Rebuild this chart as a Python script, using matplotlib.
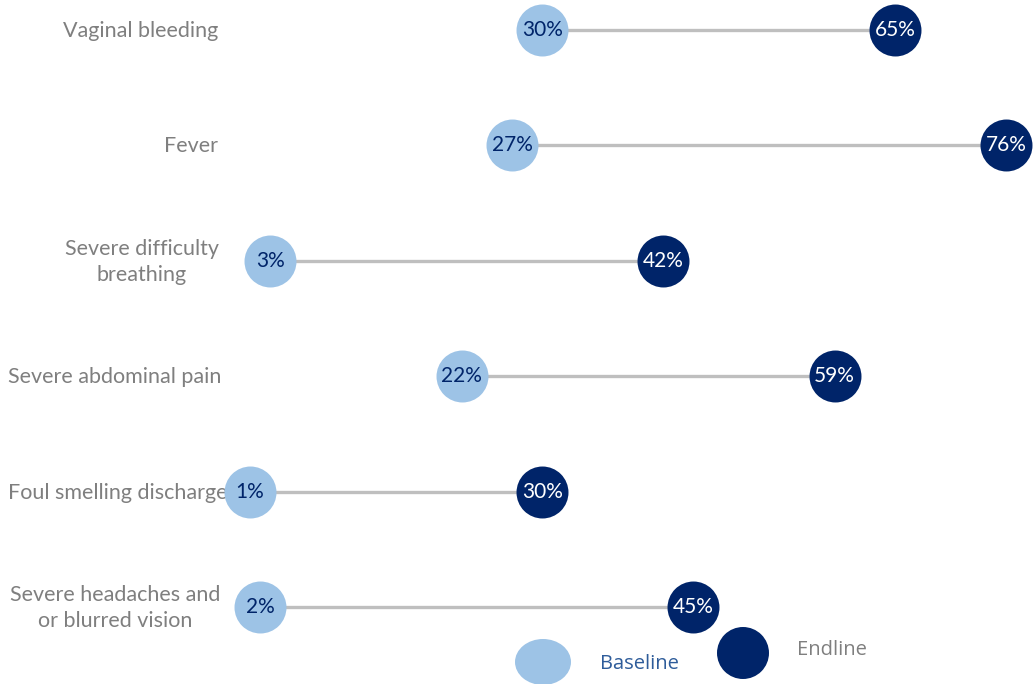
import matplotlib
matplotlib.use('Agg')
import matplotlib.pyplot as plt
from matplotlib.patches import Ellipse

# data
labels = ["Vaginal bleeding", "Fever", "Severe difficulty\nbreathing",
          "Severe abdominal pain", "Foul smelling discharge",
          "Severe headaches and\nor blurred vision"]
baseline = [30, 27, 3, 22, 1, 2]
endline = [65, 76, 42, 59, 30, 45]

light = '#9DC3E6'
dark = '#002469'
grey_txt = '#7F7F7F'

plt.rcParams['font.family'] = ['Lato', 'DejaVu Sans']

fig = plt.figure(figsize=(10.35, 6.84), dpi=100)
ax = fig.add_axes([0, 0, 1, 1])
ax.set_xlim(-23.82, 78.89)
ax.set_ylim(5.667, -0.26)
ax.axis('off')

rows = list(range(len(labels)))

for i in rows:
    ax.plot([baseline[i], endline[i]], [i, i], color='#BFBFBF', lw=2.4, zorder=1)

ax.scatter(baseline, rows, s=1400, color=light, zorder=2, linewidths=0)
ax.scatter(endline, rows, s=1400, color=dark, zorder=2, linewidths=0)

for i in rows:
    ax.text(baseline[i], i, f"{baseline[i]}%", ha='center', va='center',
            fontsize=15, color=dark, zorder=3)
    ax.text(endline[i], i, f"{endline[i]}%", ha='center', va='center',
            fontsize=15, color='white', zorder=3)

# category labels (alignment differs per label, like the original)
label_pos = [(218, 'right'), (218, 'right'), (142, 'center'),
             (8, 'left'), (8, 'left'), (115, 'center')]
for i, (px, ha) in enumerate(label_pos):
    ax.text(px / 1035, 1 - (31 + 115.4 * i) / 684, labels[i],
            transform=ax.transAxes, ha=ha, va='center', fontsize=15.5,
            color=grey_txt, linespacing=1.35, multialignment='center', zorder=0)

# legend
ax.add_patch(Ellipse((543 / 1035, 1 - 662 / 684), 56 / 1035, 46 / 684,
                     transform=ax.transAxes, color=light, lw=0, clip_on=False))
ax.add_patch(Ellipse((743 / 1035, 1 - 653 / 684), 52 / 1035, 52 / 684,
                     transform=ax.transAxes, color=dark, lw=0, clip_on=False))
ax.text(600 / 1035, 1 - 664 / 684, "Baseline", transform=ax.transAxes,
        ha='left', va='center', fontsize=14.5, color='#2E5C9A',
        family=['Open Sans', 'DejaVu Sans'])
ax.text(797 / 1035, 1 - 650 / 684, "Endline", transform=ax.transAxes,
        ha='left', va='center', fontsize=14.5, color=grey_txt,
        family=['Open Sans', 'DejaVu Sans'])

fig.savefig('out.png', dpi=100)
